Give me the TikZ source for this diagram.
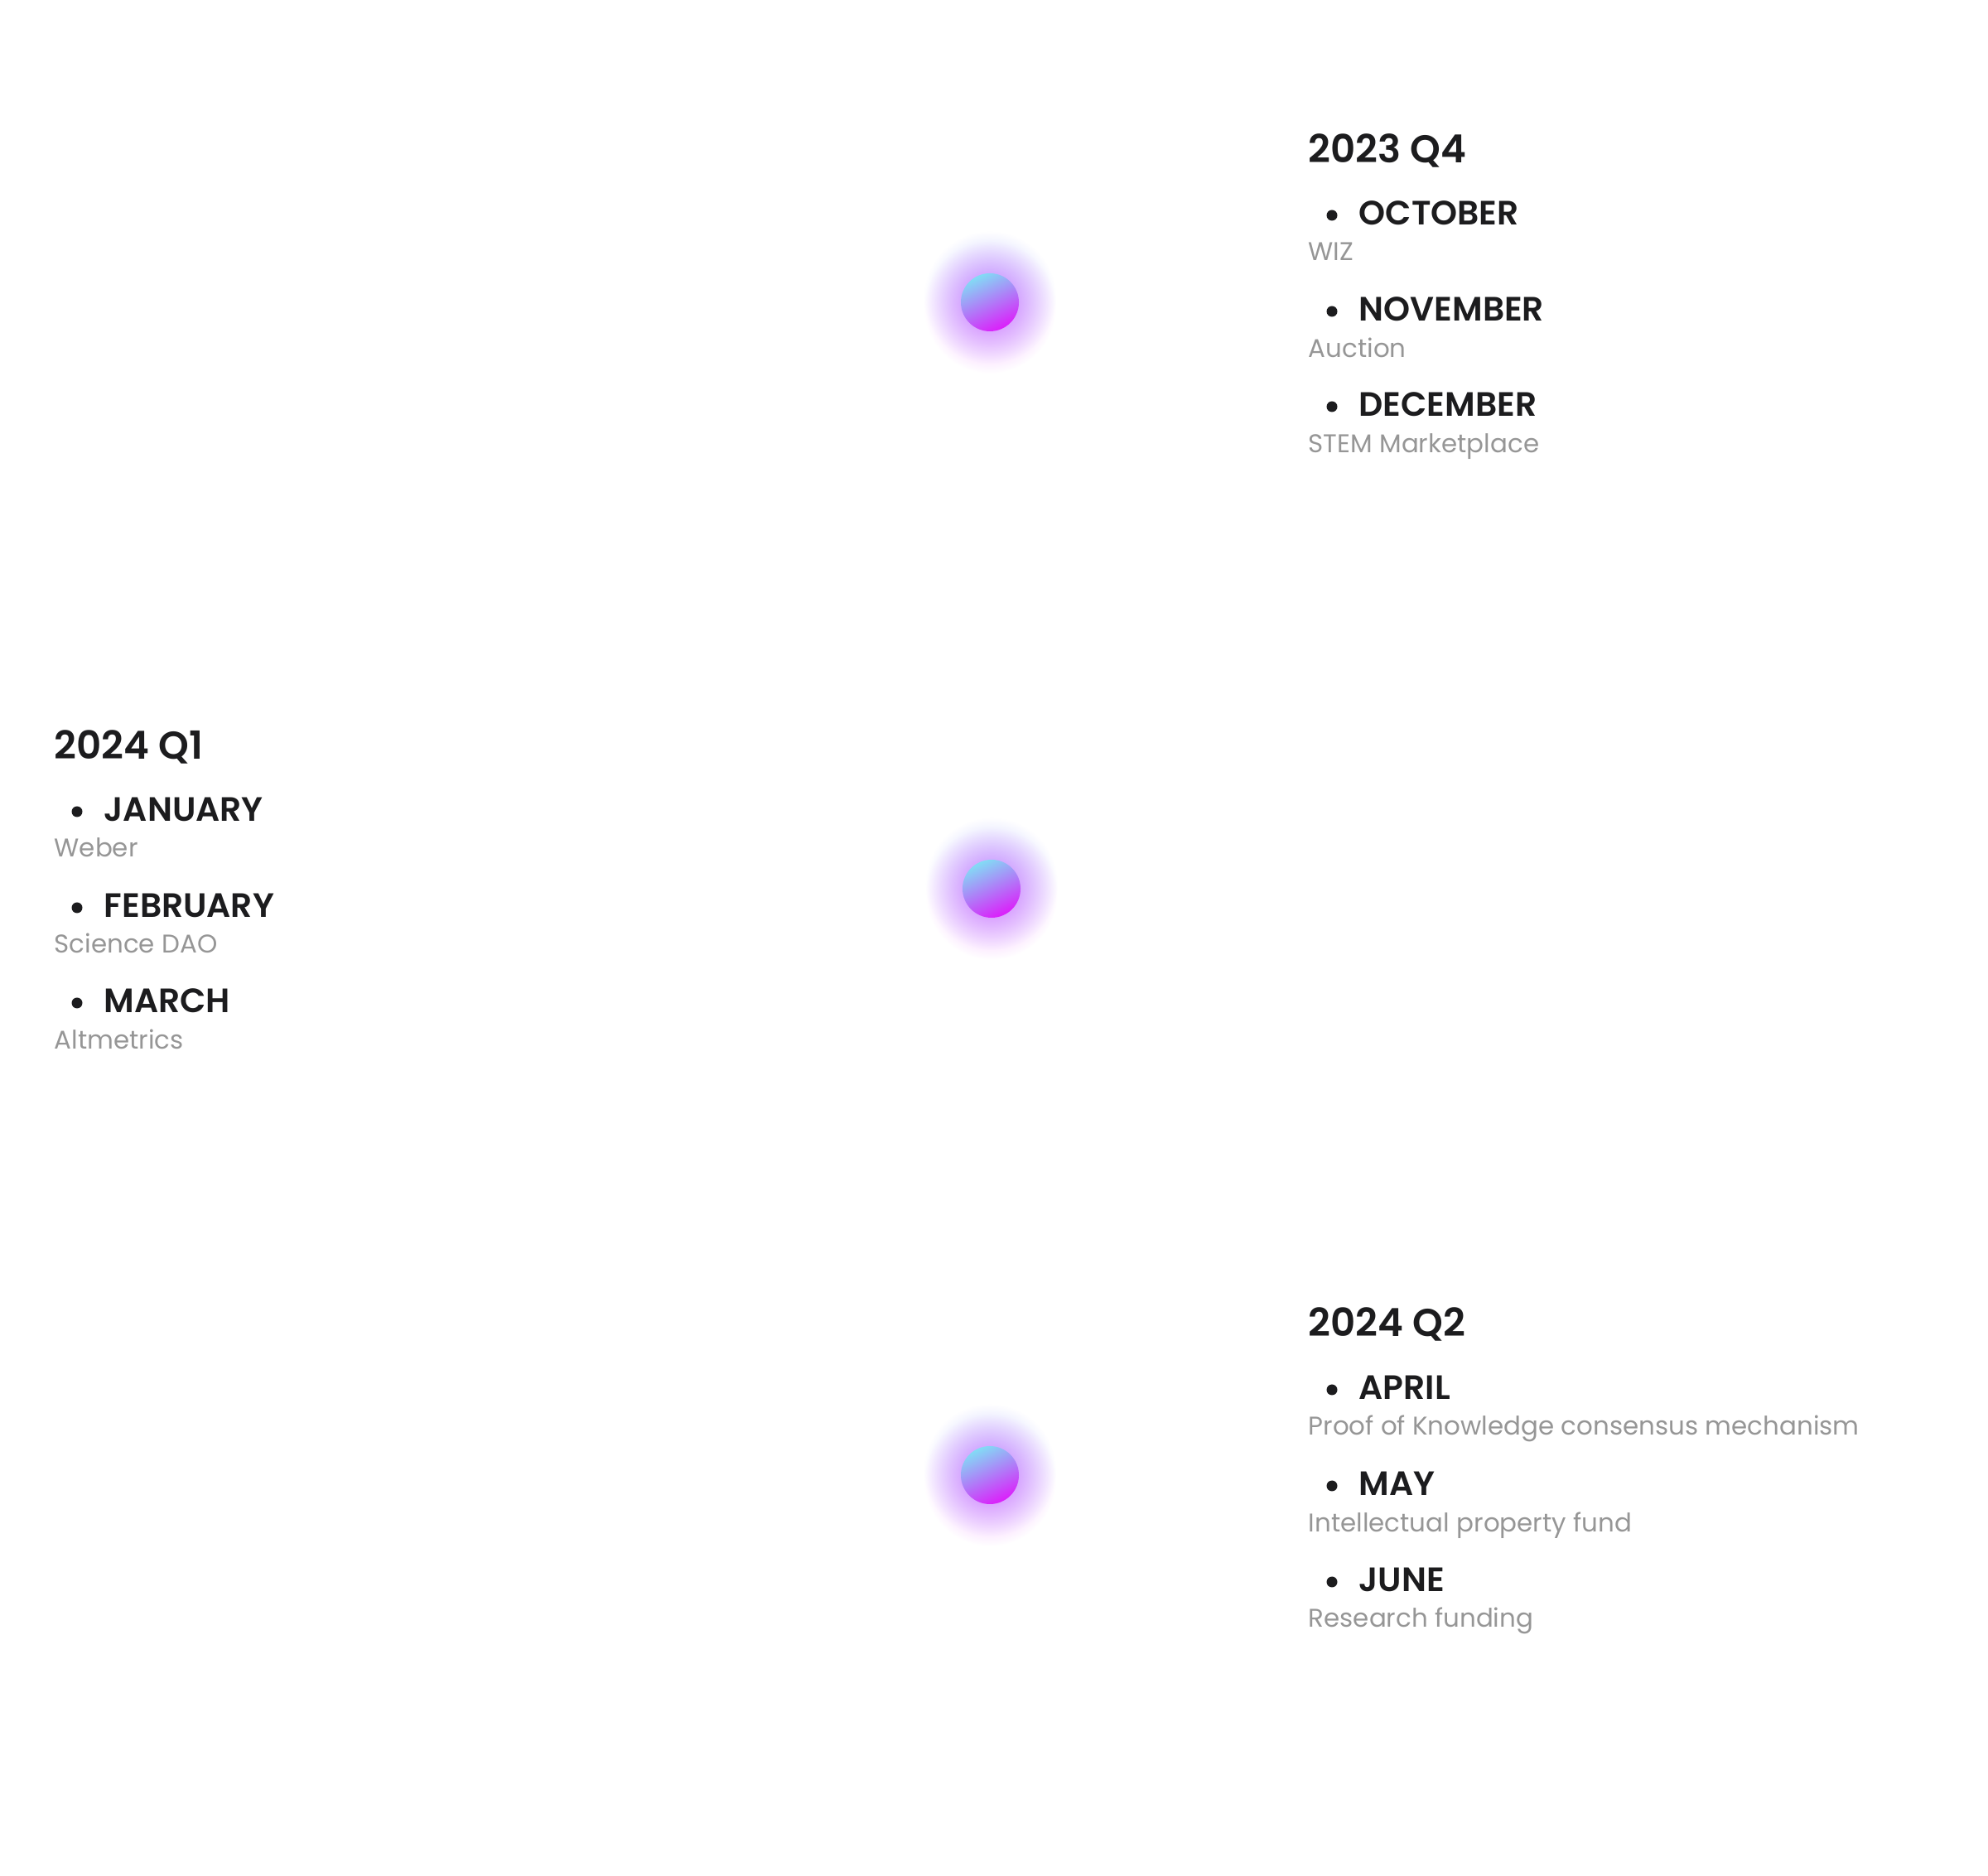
\documentclass[tikz,border=0pt]{standalone}
\usepackage{fontspec}
\setmainfont{Poppins}[BoldFont={Poppins SemiBold}]
\usetikzlibrary{fadings}

\tikzfading[name=glowfade, inner color=transparent!45, outer color=transparent!100]

\tikzset{
    quarter/.style={anchor=base west, inner sep=0pt, text=inkdark, font=\fontsize{13.3}{16}\selectfont\bfseries},
    month/.style={anchor=base west, inner sep=0pt, text=inkdark, font=\fontsize{11.6}{14}\selectfont\bfseries},
    detail/.style={anchor=base west, inner sep=0pt, text=inkgray, font=\fontsize{8.8}{11}\selectfont},
    ball/.style={top color=balltop, middle color=ballmid, bottom color=ballbot, shading angle=25}
}

\begin{document}
\begin{tikzpicture}

            % Define colors
            \definecolor{inkdark}{RGB}{28,28,30}
            \definecolor{inkgray}{RGB}{150,150,150}
            \definecolor{balltop}{RGB}{130,220,245}
            \definecolor{ballmid}{RGB}{130,60,245}
            \definecolor{ballbot}{RGB}{220,30,250}
            \definecolor{glowblue}{RGB}{110,120,255}
            \definecolor{glowpink}{RGB}{225,70,255}

            % Page size
            \useasboundingbox (0,0) rectangle (24,22.64);

            % Glowing dots
            \fill[glowblue, path fading=glowfade] (11.95,19.05) circle (0.8);
            \fill[glowpink, path fading=glowfade] (11.95,18.93) circle (0.8);
            \shade[ball] (11.95,18.99) circle (0.35);

            \fill[glowblue, path fading=glowfade] (11.97,11.97) circle (0.8);
            \fill[glowpink, path fading=glowfade] (11.97,11.85) circle (0.8);
            \shade[ball] (11.97,11.91) circle (0.35);

            \fill[glowblue, path fading=glowfade] (11.95,4.89) circle (0.8);
            \fill[glowpink, path fading=glowfade] (11.95,4.77) circle (0.8);
            \shade[ball] (11.95,4.83) circle (0.35);

            % 2023 Q4
            \node[quarter] (q4) at (15.79,20.67) {2023 Q4};
            \fill[inkdark] (16.08,20.04) circle (0.065);
            \node[month] (oct) at (16.40,19.92) {OCTOBER};
            \node[detail] (octtext) at (15.79,19.49) {WIZ};
            \fill[inkdark] (16.08,18.88) circle (0.065);
            \node[month] (nov) at (16.40,18.76) {NOVEMBER};
            \node[detail] (novtext) at (15.79,18.32) {Auction};
            \fill[inkdark] (16.08,17.73) circle (0.065);
            \node[month] (dec) at (16.40,17.61) {DECEMBER};
            \node[detail] (dectext) at (15.79,17.17) {STEM Marketplace};

            % 2024 Q1
            \node[quarter] (q1) at (0.65,13.47) {2024 Q1};
            \fill[inkdark] (0.93,12.84) circle (0.065);
            \node[month] (jan) at (1.25,12.72) {JANUARY};
            \node[detail] (jantext) at (0.65,12.29) {Weber};
            \fill[inkdark] (0.93,11.68) circle (0.065);
            \node[month] (feb) at (1.25,11.56) {FEBRUARY};
            \node[detail] (febtext) at (0.65,11.13) {Science DAO};
            \fill[inkdark] (0.93,10.53) circle (0.065);
            \node[month] (mar) at (1.25,10.41) {MARCH};
            \node[detail] (martext) at (0.65,9.97) {Altmetrics};

            % 2024 Q2
            \node[quarter] (q2) at (15.79,6.50) {2024 Q2};
            \fill[inkdark] (16.08,5.86) circle (0.065);
            \node[month] (apr) at (16.40,5.74) {APRIL};
            \node[detail] (aprtext) at (15.79,5.31) {Proof of Knowledge consensus mechanism};
            \fill[inkdark] (16.08,4.70) circle (0.065);
            \node[month] (may) at (16.40,4.58) {MAY};
            \node[detail] (maytext) at (15.79,4.14) {Intellectual property fund};
            \fill[inkdark] (16.08,3.54) circle (0.065);
            \node[month] (jun) at (16.40,3.42) {JUNE};
            \node[detail] (juntext) at (15.79,2.99) {Research funding};

\end{tikzpicture}
\end{document}
